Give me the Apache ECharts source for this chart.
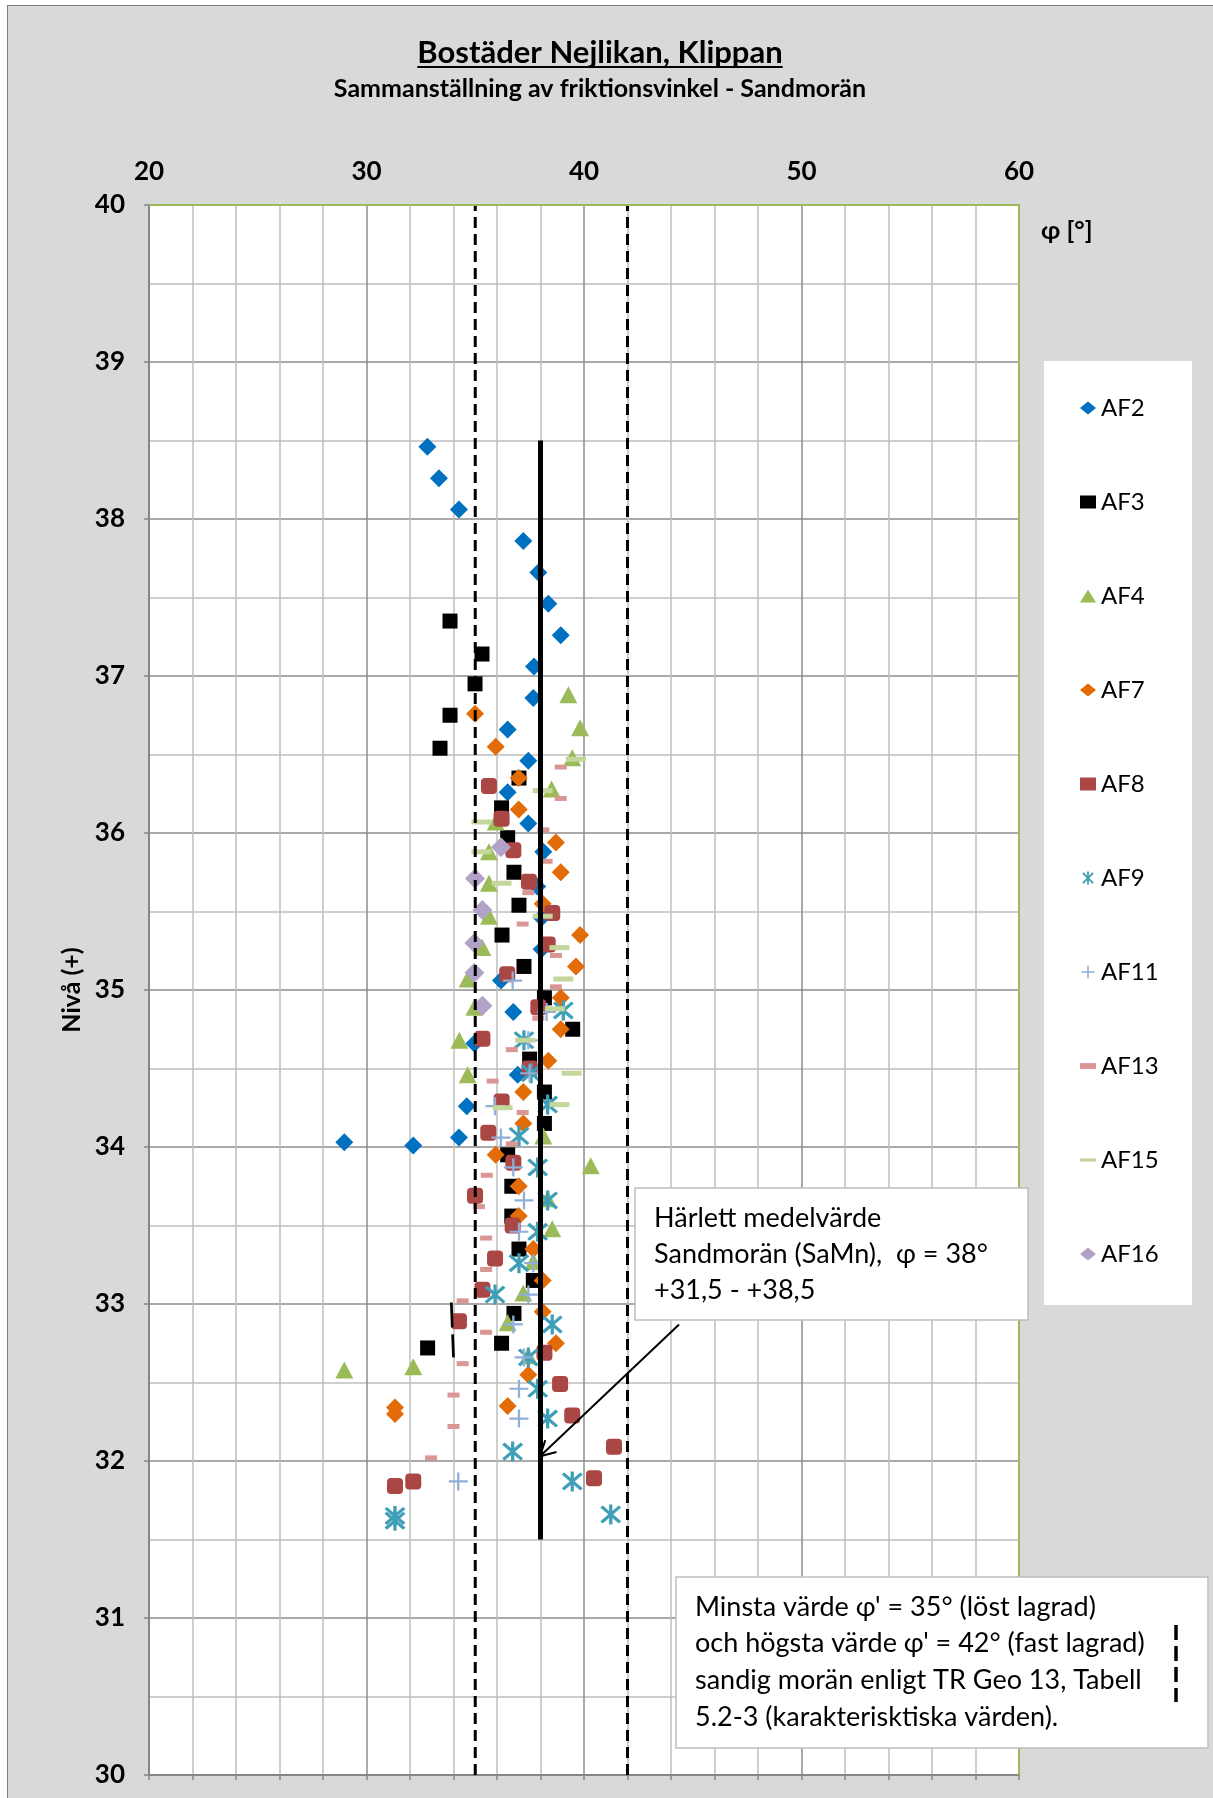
<!DOCTYPE html>
<html><head><meta charset="utf-8">
<script src="https://cdn.jsdelivr.net/npm/echarts@6/dist/echarts.min.js"></script>
<style>
html,body{margin:0;padding:0;background:#fff;}
#bg{position:absolute;left:7px;top:5px;width:1206px;height:1793px;background:#d9d9d9;border-left:1.5px solid #7f7f7f;border-top:1.5px solid #7f7f7f;box-sizing:border-box;}
#chart{position:absolute;left:0;top:0;width:1213px;height:1798px;}
</style></head><body><div id="bg"></div><div id="chart"></div>
<script>
// ---------- DATA : [phi (°), level (+m)] ----------
const AF2 = [[32.8,38.46],[33.33,38.26],[34.25,38.06],[37.21,37.86],[37.9,37.66],[38.36,37.46],[38.93,37.26],[37.7,37.06],[37.67,36.86],[36.49,36.66],[37.44,36.46],[36.49,36.26],[37.44,36.06],[38.13,35.88],[37.85,35.66],[38.05,35.46],[38.05,35.26],[36.18,35.06],[36.75,34.86],[34.96,34.66],[36.95,34.46],[34.61,34.26],[34.25,34.06],[28.98,34.03],[32.15,34.01]];
const AF3 = [[33.84,37.35],[35.31,37.14],[34.99,36.95],[33.84,36.75],[33.38,36.54],[37.01,36.35],[36.21,36.16],[36.49,35.97],[36.78,35.75],[37.01,35.54],[36.23,35.35],[37.24,35.15],[38.18,34.95],[39.48,34.75],[37.5,34.56],[38.18,34.35],[38.18,34.15],[36.49,33.95],[36.68,33.75],[36.68,33.56],[37.01,33.35],[37.67,33.15],[36.78,32.94],[36.21,32.75],[32.81,32.72]];
const AF4 = [[39.28,36.88],[39.82,36.67],[39.46,36.48],[38.51,36.28],[35.94,36.07],[35.63,35.88],[35.63,35.68],[35.63,35.47],[35.33,35.27],[34.65,35.07],[34.96,34.89],[34.27,34.68],[34.65,34.46],[38.13,34.07],[40.31,33.88],[38.33,33.67],[38.54,33.48],[37.67,33.27],[37.21,33.07],[36.49,32.88],[37.44,32.67],[32.15,32.6],[28.98,32.58]];
const AF7 = [[34.99,36.76],[35.94,36.55],[37.0,36.35],[37.0,36.15],[38.71,35.94],[38.93,35.75],[38.1,35.55],[39.82,35.35],[39.63,35.15],[38.93,34.95],[38.93,34.75],[38.36,34.55],[37.21,34.35],[37.21,34.15],[35.94,33.95],[37.0,33.75],[37.0,33.56],[37.67,33.35],[38.1,33.15],[38.1,32.95],[38.71,32.75],[37.44,32.55],[36.49,32.35],[31.31,32.34],[31.31,32.3]];
const AF8 = [[35.63,36.3],[36.21,36.09],[36.75,35.89],[37.47,35.69],[38.54,35.49],[38.33,35.29],[36.47,35.1],[37.9,34.89],[35.33,34.69],[37.5,34.5],[36.21,34.29],[35.6,34.09],[36.75,33.9],[34.99,33.69],[36.72,33.5],[35.91,33.29],[35.33,33.09],[34.25,32.89],[38.18,32.69],[38.9,32.49],[39.46,32.29],[41.38,32.09],[40.46,31.89],[32.15,31.87],[31.31,31.84]];
const AF9 = [[39.05,34.87],[37.24,34.68],[37.57,34.47],[38.33,34.27],[37.01,34.07],[37.87,33.87],[38.33,33.66],[37.87,33.46],[37.01,33.26],[35.91,33.06],[38.54,32.87],[37.44,32.66],[37.87,32.46],[38.33,32.27],[36.72,32.06],[39.46,31.87],[41.23,31.66],[31.31,31.65],[31.31,31.62]];
const AF11 = [[36.72,35.06],[38.28,34.86],[37.44,34.68],[37.5,34.47],[35.91,34.26],[36.18,34.06],[36.75,33.87],[37.24,33.66],[37.01,33.46],[37.67,33.26],[37.44,33.06],[36.75,32.87],[37.24,32.66],[37.01,32.46],[37.01,32.27],[34.22,31.87]];
const AF13 = [[38.93,36.42],[38.93,36.22],[38.13,36.02],[38.28,35.82],[37.44,35.62],[37.18,35.42],[38.71,35.22],[38.71,35.02],[37.9,34.82],[36.68,34.62],[35.8,34.42],[37.18,34.22],[36.68,34.02],[35.53,33.82],[35.17,33.62],[35.5,33.42],[35.5,33.22],[34.42,33.02],[35.5,32.82],[34.42,32.62],[34.0,32.42],[34.0,32.22],[32.97,32.02]];
const AF15 = [[39.63,36.47],[38.1,36.27],[35.29,36.07],[35.29,35.88],[36.21,35.68],[38.1,35.47],[38.87,35.27],[39.05,35.07],[38.66,34.88],[37.3,34.68],[39.43,34.47],[38.87,34.27],[36.26,34.25]];
const AF16 = [[36.18,35.91],[34.99,35.71],[35.33,35.51],[34.96,35.3],[34.96,35.11],[35.33,34.9]];

const MIN_LINE  = [[35,30],[35,40]];
const MAX_LINE  = [[42,30],[42,40]];
const MEAN_LINE = [[38,31.5],[38,38.5]];
const STRAY_LINE = [[33.9,33.01],[34.0,32.66]];
const ARROW_FROM = [44.37,32.87];
const ARROW_TO   = [37.98,32.03];

const X_MIN = 20, X_MAX = 60, X_STEP = 10;
const Y_MIN = 30, Y_MAX = 40, Y_STEP = 1;

const TITLE = 'Bostäder Nejlikan, Klippan';
const SUBTITLE = 'Sammanställning av friktionsvinkel - Sandmorän';
const X_NAME = 'φ [°]';
const Y_NAME = 'Nivå (+)';
const BOX1 = ['Härlett medelvärde','Sandmorän (SaMn),  φ = 38°','+31,5 - +38,5'];
const BOX2 = ["Minsta värde φ' = 35° (löst lagrad)","och högsta värde φ' = 42° (fast lagrad)",'sandig morän enligt TR Geo 13, Tabell','5.2-3 (karakterisktiska värden).'];

// ---------- STYLE ----------
const F = "Lato,'Noto Sans',sans-serif";
const STAR = 'path://M8.6,0H11.4V20H8.6Z M1,3.1L3.1,1L19,16.9L16.9,19Z M16.9,1L19,3.1L3.1,19L1,16.9Z';
const PLUS = 'path://M0,8.8H20V11.2H0Z M8.8,0H11.2V20H8.8Z';
const DASH_S = 'path://M0,0H11V4H0Z';
const DASH_L = 'path://M0,0H20V4H0Z';

function sc(name, data, symbol, size, color){
  return {type:'scatter', name, data, symbol, symbolSize:size, xAxisIndex:0, yAxisIndex:0,
    itemStyle:{color, opacity:1}, emphasis:{disabled:true}, z:2};
}
function ln(data, width, type){
  return {type:'line', data, symbol:'none', xAxisIndex:0, yAxisIndex:0, silent:true, z:3,
    lineStyle:{color:'#000', width, type}, emphasis:{disabled:true}};
}

const chart = echarts.init(document.getElementById('chart'), null, {renderer:'canvas'});
const labelStyle = {fontFamily:F, fontWeight:'bold', fontSize:26, color:'#000'};
const option = {
  animation:false,
  backgroundColor:'transparent',
  grid:{left:149, right:194, top:205, bottom:23, show:true, backgroundColor:'#fff', borderColor:'#9bbb59', borderWidth:2},
  xAxis:[
    {type:'value', position:'top', min:X_MIN, max:X_MAX, interval:X_STEP,
     axisLine:{show:false}, axisTick:{show:false},
     axisLabel:Object.assign({margin:20}, labelStyle),
     splitLine:{show:true, lineStyle:{color:'#8c8c8c', width:1.5}},
     minorTick:{show:false, splitNumber:5},
     minorSplitLine:{show:true, lineStyle:{color:'#bfbfbf', width:1.5}}},
    {type:'value', position:'bottom', min:X_MIN, max:X_MAX, interval:2,
     axisLine:{show:true, onZero:false, lineStyle:{color:'#868686', width:2}},
     axisTick:{show:true, length:5, lineStyle:{color:'#868686', width:1.5}},
     axisLabel:{show:false}, splitLine:{show:false}}
  ],
  yAxis:{type:'value', min:Y_MIN, max:Y_MAX, interval:Y_STEP,
    name:Y_NAME, nameLocation:'middle', nameRotate:90, nameGap:60,
    nameTextStyle:{fontFamily:F, fontWeight:'bold', fontSize:25, color:'#000'},
    axisLine:{show:true, lineStyle:{color:'#868686', width:2}},
    axisTick:{show:true, length:5, lineStyle:{color:'#868686', width:1.5}},
    axisLabel:Object.assign({margin:24}, labelStyle),
    splitLine:{show:true, lineStyle:{color:'#8c8c8c', width:1.5}},
    minorTick:{show:false, splitNumber:2},
    minorSplitLine:{show:true, lineStyle:{color:'#bfbfbf', width:1.5}}},
  legend:{orient:'vertical', left:1080, top:396, padding:0, itemWidth:16, itemHeight:13, itemGap:70,
    selectedMode:false, z:5,
    textStyle:{fontFamily:F, fontSize:24, color:'#000', lineHeight:24},
    data:[{name:'AF2',icon:'diamond'},{name:'AF3',icon:'rect'},{name:'AF4',icon:'triangle'},
          {name:'AF7',icon:'diamond'},{name:'AF8',icon:'rect'},{name:'AF9',icon:STAR},
          {name:'AF11',icon:PLUS},{name:'AF13',icon:DASH_S},{name:'AF15',icon:DASH_L},{name:'AF16',icon:'diamond'}]},
  series:[
    sc('AF2', AF2, 'diamond', 18, '#0070c0'),
    sc('AF3', AF3, 'rect', 15, '#000000'),
    sc('AF4', AF4, 'triangle', [18,17], '#9bbb59'),
    sc('AF7', AF7, 'diamond', 18, '#e36c09'),
    sc('AF8', AF8, 'roundRect', 16, '#aa4643'),
    sc('AF9', AF9, STAR, [21,20], '#3f9fb8'),
    sc('AF11', AF11, PLUS, [19,18], '#8faed8'),
    sc('AF13', AF13, DASH_S, [12,5], '#d99694'),
    sc('AF15', AF15, DASH_L, [20,5], '#c3d69b'),
    sc('AF16', AF16, 'diamond', 20, '#b3a2c7'),
    ln(MIN_LINE, 3, [11,6]),
    ln(MAX_LINE, 3, [11,6]),
    ln(MEAN_LINE, 5, 'solid'),
    ln(STRAY_LINE, 2.7, [25,7])
  ]
};
chart.setOption(option);

// ---------- annotations ----------
const P = v => chart.convertToPixel({xAxisIndex:0, yAxisIndex:0}, v);
const ctx = document.createElement('canvas').getContext('2d');
ctx.font = 'bold 31px ' + F;
const tw = ctx.measureText(TITLE).width;

function txt(x, y, text, font, align){
  return {type:'text', x, y, z:100, style:{text, font, fill:'#000', align:align||'left', textAlign:align||'left', verticalAlign:'middle', textVerticalAlign:'middle'}};
}
const g = [];
g.push(txt(600, 53, TITLE, 'bold 31px '+F, 'center'));
g.push({type:'rect', z:100, shape:{x:600-tw/2, y:66, width:tw, height:2}, style:{fill:'#000'}});
g.push(txt(600, 89, SUBTITLE, 'bold 25px '+F, 'center'));
g.push(txt(1041, 231, X_NAME, 'bold 25px '+F, 'left'));

// green plot border (top and right)
const tl = P([X_MIN, Y_MAX]), tr = P([X_MAX, Y_MAX]), br = P([X_MAX, Y_MIN]);
g.push({type:'polyline', z:4, shape:{points:[tl, tr, br]}, style:{stroke:'#9bbb59', lineWidth:2, fill:null}});

// legend box
g.push({type:'rect', z:1, shape:{x:1044, y:361, width:148, height:944}, style:{fill:'#fff'}});

// box 1
g.push({type:'rect', z:100, shape:{x:635, y:1188, width:393, height:132}, style:{fill:'#fff', stroke:'#bfbfbf', lineWidth:1.5}});
BOX1.forEach((t,i)=>g.push(txt(654, 1218 + i*36, t, '27px '+F)));
// box 2
g.push({type:'rect', z:100, shape:{x:676, y:1577, width:532, height:171}, style:{fill:'#fff', stroke:'#bfbfbf', lineWidth:1.5}});
BOX2.forEach((t,i)=>g.push(txt(695, 1607 + i*36.7, t, '27px '+F)));
g.push({type:'line', z:101, shape:{x1:1176, y1:1625, x2:1176, y2:1702}, style:{stroke:'#000', lineWidth:3.5, lineDash:[15,6]}});

// arrow
const a0 = P(ARROW_FROM), a1 = P(ARROW_TO);
const ang = Math.atan2(a0[1]-a1[1], a0[0]-a1[0]);
const L = 17, da = 0.5;
const h1 = [a1[0] + L*Math.cos(ang+da), a1[1] + L*Math.sin(ang+da)];
const h2 = [a1[0] + L*Math.cos(ang-da), a1[1] + L*Math.sin(ang-da)];
g.push({type:'line', z:101, shape:{x1:a0[0], y1:a0[1], x2:a1[0], y2:a1[1]}, style:{stroke:'#000', lineWidth:2}});
g.push({type:'polyline', z:101, shape:{points:[h1, a1, h2]}, style:{stroke:'#000', lineWidth:2, fill:null}});

chart.setOption({graphic:{elements:g}});
</script>
</body></html>
